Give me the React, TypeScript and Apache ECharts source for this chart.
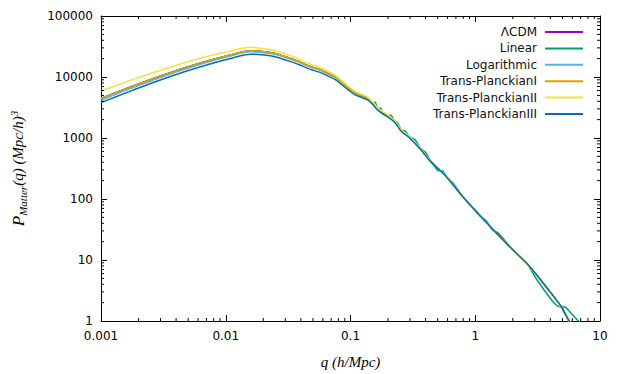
import React, { useEffect, useRef } from "react";
import * as echarts from "echarts";

// Wavenumber grid shared by most models (h/Mpc)
const qGrid = [
  0.001, 0.00166, 0.0028, 0.0044, 0.0069, 0.0105, 0.0159, 0.0203, 0.0249, 0.0309,
  0.0384, 0.0471, 0.0564, 0.0676, 0.0762, 0.0861, 0.0964, 0.109, 0.122, 0.136,
  0.151, 0.166, 0.199, 0.225, 0.254, 0.296, 0.365, 0.438, 0.59, 0.798,
  1.08, 1.45, 1.97, 2.66, 3.82, 4.85, 5.64, 6.0,
];

const pLCDM = [
  4450, 6670, 9890, 13600, 18020, 22620, 26980, 26000, 24270, 21040,
  17950, 14960, 13270, 11190, 9820, 7980, 6610, 5470, 4980, 4530,
  3750, 2985, 2323, 1901, 1352, 1038, 661, 420, 230, 108,
  54.7, 28.8, 15.1, 8.28, 3.35, 1.76, 1.01, 0.87,
];

const pLogarithmic = [
  4150, 6260, 9320, 12870, 17140, 21600, 25870, 25060, 23490, 20470,
  17540, 14690, 13080, 11070, 9730, 7920, 6580, 5460, 4980, 4530,
  3750, 2985, 2323, 1901, 1352, 1038, 661, 420, 230, 108,
  54.7, 28.8, 15.1, 8.28, 3.35, 1.76, 1.01, 0.87,
];

const pTransI = [
  4450, 6670, 9890, 13600, 18020, 22620, 26980, 26000, 24270, 21040,
  17950, 14960, 13270, 11190, 9820, 7980, 6610, 5470, 4980, 4530,
  3750, 2985, 2323, 1901, 1352, 1038, 661, 420, 230, 108,
  54.7, 28.8, 15.1, 8.28, 3.35, 1.76, 1.01, 0.87,
];

const pTransII = [
  5880, 8590, 12310, 16540, 21430, 26260, 30620, 29170, 27110, 23330,
  19780, 16400, 14450, 12100, 10570, 8555, 7030, 5790, 5240, 4740,
  3910, 3100, 2390, 1950, 1380, 1055, 669, 423, 230, 108,
  54.5, 28.6, 14.9, 8.1, 3.25, 1.7, 0.97, 0.83,
];

const pTransIII = [
  3800, 5700, 8500, 11740, 15620, 19700, 23660, 22910, 21480, 18750,
  16070, 13460, 12000, 10160, 8960, 7330, 6100, 5080, 4650, 4250,
  3530, 2820, 2220, 1830, 1306, 1010, 647, 414, 228, 107.5,
  54.7, 28.8, 15.1, 8.28, 3.35, 1.76, 1.01, 0.87,
];

// Linear model has its own (noisier) sampling
const qLinear = [
  0.001, 0.00166, 0.0028, 0.0044, 0.0069, 0.0105, 0.0159, 0.0203, 0.0249, 0.0309,
  0.0384, 0.0471, 0.0564, 0.0676, 0.0762, 0.0861, 0.0964, 0.109, 0.122, 0.136,
  0.151, 0.158, 0.166, 0.175, 0.182, 0.199, 0.212, 0.225, 0.24, 0.254,
  0.275, 0.296, 0.33, 0.365, 0.4, 0.438, 0.5, 0.55, 0.59, 0.67,
  0.798, 1.08, 1.23, 1.37, 1.53, 1.97, 2.66, 3.09, 3.71, 4.21,
  4.57, 5.31, 6.56, 6.97,
];

const pLinear = [
  4450, 6670, 9890, 13600, 18020, 22620, 26980, 26000, 24270, 21040,
  17950, 14960, 13270, 11190, 9820, 7980, 6610, 5470, 4980, 4530,
  3750, 3860, 2985, 3110, 2450, 2323, 2355, 1901, 1746, 1352,
  1309, 1038, 940, 661, 589, 420, 292, 290, 230, 179,
  108, 54.7, 43.6, 31.0, 27.7, 15.1, 8.28, 4.88, 2.88, 2.05,
  1.74, 1.68, 1.05, 0.93,
];

const xTickLabels = ["0.001", "0.01", "0.1", "1", "10"];
const yTickLabels = ["1", "10", "100", "1000", "10000", "100000"];

const seriesNames = [
  "ΛCDM",
  "Linear",
  "Logarithmic",
  "Trans-PlanckianI",
  "Trans-PlanckianII",
  "Trans-PlanckianIII",
];
const seriesColors = ["#9400D3", "#009E73", "#56B4E9", "#E69F00", "#F0E442", "#0072B2"];

const minorMultipliers = [2, 3, 4, 5, 6, 7, 8, 9];
const xDecades = [0.001, 0.01, 0.1, 1];
const yDecades = [1, 10, 100, 1000, 10000];

const zip = (xs: number[], ys: number[]) => xs.map((x, i) => [x, ys[i]]);

export default function App() {
  const ref = useRef<HTMLDivElement>(null);

  useEffect(() => {
    if (!ref.current) return;
    const chart = echarts.init(ref.current, undefined, { renderer: "svg" });

    const serif = "Liberation Serif";
    const sans = "DejaVu Sans";

    const seriesData = [
      zip(qGrid, pLCDM),
      zip(qLinear, pLinear),
      zip(qGrid, pLogarithmic),
      zip(qGrid, pTransI),
      zip(qGrid, pTransII),
      zip(qGrid, pTransIII),
    ];

    const minorX: number[][] = [];
    xDecades.forEach((d) => minorMultipliers.forEach((m) => minorX.push([d * m, 1])));
    const minorY: number[][] = [];
    yDecades.forEach((d) => minorMultipliers.forEach((m) => minorY.push([0.001, d * m])));

    const tickStyle = { stroke: "#000", lineWidth: 1 };

    const axisCommon = {
      axisLine: { show: true, lineStyle: { color: "#000", width: 1 } },
      axisTick: { show: true, inside: true, length: 6, lineStyle: { color: "#000", width: 1 } },
      splitLine: { show: false },
      minorTick: { show: false },
    };

    const option: any = {
      animation: false,
      backgroundColor: "#fff",
      grid: { left: 90, right: 22, top: 16, bottom: 52 },
      legend: {
        data: seriesNames,
        orient: "vertical",
        right: 39,
        top: 25,
        align: "right",
        icon: "rect",
        itemWidth: 38,
        itemHeight: 2,
        itemGap: 2.4,
        padding: 0,
        textStyle: { fontFamily: sans, fontSize: 12, color: "#111", lineHeight: 14, padding: [0, 3, 0, 0] },
      },
      xAxis: [
        {
          type: "log",
          logBase: 10,
          min: 0.001,
          max: 10,
          position: "bottom",
          ...axisCommon,
          axisLabel: {
            margin: 9,
            fontFamily: sans,
            fontSize: 12,
            color: "#000",
            formatter: (v: number) => xTickLabels[Math.round(Math.log10(v)) + 3],
          },
          name: "q (h/Mpc)",
          nameLocation: "middle",
          nameGap: 33,
          nameTextStyle: { fontFamily: serif, fontStyle: "italic", fontSize: 15, color: "#000" },
        },
        {
          type: "log",
          logBase: 10,
          min: 0.001,
          max: 10,
          position: "top",
          ...axisCommon,
          axisLabel: { show: false },
        },
      ],
      yAxis: [
        {
          type: "log",
          logBase: 10,
          min: 1,
          max: 100000,
          position: "left",
          ...axisCommon,
          axisLabel: {
            margin: 8,
            fontFamily: sans,
            fontSize: 12,
            color: "#000",
            formatter: (v: number) => yTickLabels[Math.round(Math.log10(v))],
          },
          name: "{p|P}{s|Matter}{m|(q) (Mpc/h)}{u|3}",
          nameLocation: "middle",
          nameRotate: 90,
          nameGap: 73,
          nameTextStyle: {
            fontFamily: serif,
            fontStyle: "italic",
            color: "#000",
            rich: {
              p: { fontFamily: serif, fontStyle: "italic", fontSize: 17, lineHeight: 20, color: "#000" },
              s: { fontFamily: serif, fontStyle: "italic", fontSize: 11, lineHeight: 12, verticalAlign: "bottom", color: "#000" },
              m: { fontFamily: serif, fontStyle: "italic", fontSize: 15, lineHeight: 20, color: "#000" },
              u: { fontFamily: serif, fontStyle: "italic", fontSize: 11, lineHeight: 10, verticalAlign: "top", color: "#000" },
            },
          },
        },
        {
          type: "log",
          logBase: 10,
          min: 1,
          max: 100000,
          position: "right",
          ...axisCommon,
          axisLabel: { show: false },
        },
      ],
      series: [
        ...seriesNames.map((name, i) => ({
          name,
          type: "line",
          xAxisIndex: 0,
          yAxisIndex: 0,
          data: seriesData[i],
          symbol: "none",
          showSymbol: false,
          smooth: i === 1 ? false : 0.3,
          color: seriesColors[i],
          lineStyle: { color: seriesColors[i], width: 1.5 },
          clip: true,
          z: 2 + i,
        })),
        {
          type: "custom",
          silent: true,
          xAxisIndex: 0,
          yAxisIndex: 0,
          clip: false,
          z: 10,
          data: minorX,
          renderItem: (params: any, api: any) => {
            const cs = params.coordSys;
            const p = api.coord([api.value(0), api.value(1)]);
            const x = p[0];
            return {
              type: "group",
              children: [
                { type: "line", shape: { x1: x, y1: cs.y + cs.height, x2: x, y2: cs.y + cs.height - 3 }, style: tickStyle },
                { type: "line", shape: { x1: x, y1: cs.y, x2: x, y2: cs.y + 3 }, style: tickStyle },
              ],
            };
          },
        },
        {
          type: "custom",
          silent: true,
          xAxisIndex: 0,
          yAxisIndex: 0,
          clip: false,
          z: 10,
          data: minorY,
          renderItem: (params: any, api: any) => {
            const cs = params.coordSys;
            const p = api.coord([api.value(0), api.value(1)]);
            const y = p[1];
            return {
              type: "group",
              children: [
                { type: "line", shape: { x1: cs.x, y1: y, x2: cs.x + 3, y2: y }, style: tickStyle },
                { type: "line", shape: { x1: cs.x + cs.width, y1: y, x2: cs.x + cs.width - 3, y2: y }, style: tickStyle },
              ],
            };
          },
        },
      ],
    };

    chart.setOption(option);
    return () => chart.dispose();
  }, []);

  return (
    <div
      ref={ref}
      style={{ position: "absolute", left: 0, top: 0, width: 622, height: 374, background: "#fff" }}
    />
  );
}
